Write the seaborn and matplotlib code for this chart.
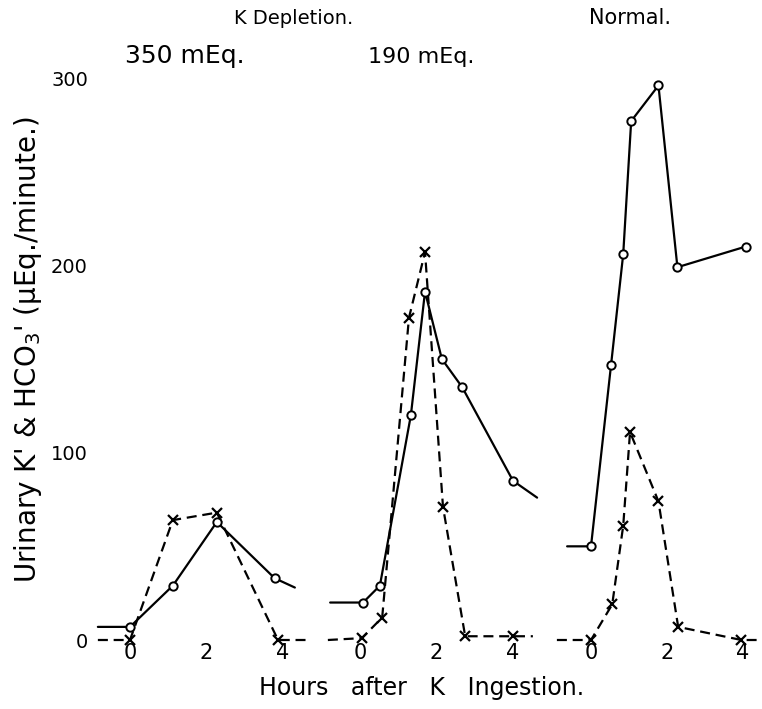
import matplotlib
matplotlib.use("Agg")
import matplotlib.pyplot as plt
import seaborn as sns

sns.set_style("white")
plt.rcParams["font.family"] = ["DejaVu Sans"]
plt.rcParams["text.color"] = "black"
plt.rcParams["xtick.color"] = "black"
plt.rcParams["ytick.color"] = "black"

hour_ticks = [0, 2, 4]
value_ticks = [0, 100, 200, 300]

panel_labels = ["350 mEq.", "190 mEq.", ""]
group_labels = ["K Depletion.", "Normal."]
x_label = "Hours   after   K   Ingestion."
y_label = "Urinary K' & HCO$_3$' (\u03bcEq./minute.)"

# 350 mEq. K depletion
p1_hco3_hours = [-0.84, 0.0, 1.12, 2.27, 3.78, 4.31]
p1_hco3_vals = [7, 7, 29, 63, 33, 28]
p1_k_hours = [-0.84, 0.0, 1.12, 2.27, 3.87, 4.63]
p1_k_vals = [0, 0, 64, 68, 0, 0]

# 190 mEq. K depletion
p2_hco3_hours = [-0.78, 0.08, 0.52, 1.33, 1.70, 2.14, 2.67, 4.0, 4.63]
p2_hco3_vals = [20, 20, 29, 120, 186, 150, 135, 85, 76]
p2_k_hours = [-0.84, 0.05, 0.58, 1.28, 1.70, 2.17, 2.75, 4.0, 4.52]
p2_k_vals = [0, 1, 12, 172, 207, 71, 2, 2, 2]

# Normal
p3_hco3_hours = [-0.63, 0.0, 0.53, 0.85, 1.06, 1.78, 2.28, 4.08]
p3_hco3_vals = [50, 50, 147, 206, 277, 296, 199, 210]
p3_k_hours = [-0.9, 0.0, 0.56, 0.85, 1.03, 1.78, 2.3, 3.97, 4.5]
p3_k_vals = [0, 0, 19, 61, 111, 74, 7, 0, 0]

panels = [
    (p1_hco3_hours, p1_hco3_vals, p1_k_hours, p1_k_vals, True, True),
    (p2_hco3_hours, p2_hco3_vals, p2_k_hours, p2_k_vals, True, True),
    (p3_hco3_hours, p3_hco3_vals, p3_k_hours, p3_k_vals, False, True),
]

W, H = 762, 709
fig = plt.figure(figsize=(W / 100, H / 100), dpi=100)

# panel placement in pixels: origin of hour 0, pixels per hour
origins = [130, 360, 591]
px_per_hour = [38.25, 38.25, 37.9]
y_zero_px = 640.0
px_per_unit = (640 - 78) / 300
x_lo, x_hi = -1.0, 4.7
y_lo, y_hi = -1.0, 315.0

dash = (0, (4.5, 2.6))

for i, (ht, hv, kt, kv, hco3_trail, k_trail) in enumerate(panels):
    left = origins[i] + x_lo * px_per_hour[i]
    width = (x_hi - x_lo) * px_per_hour[i]
    bottom_px = y_zero_px - y_lo * px_per_unit
    top_px = y_zero_px - y_hi * px_per_unit
    ax = fig.add_axes([left / W, (H - bottom_px) / H, width / W, (bottom_px - top_px) / H])
    ax.patch.set_alpha(0)

    hco3_marks = list(range(1, len(ht) - 1 if hco3_trail else len(ht)))
    k_marks = list(range(1, len(kt) - 1 if k_trail else len(kt)))

    sns.lineplot(x=kt, y=kv, ax=ax, color="black", linewidth=1.6,
                 linestyle=dash, marker="x", markersize=7,
                 markeredgewidth=1.6, markeredgecolor="black",
                 markevery=k_marks, sort=False, estimator=None,
                 clip_on=False, zorder=2)
    sns.lineplot(x=ht, y=hv, ax=ax, color="black", linewidth=1.6,
                 linestyle="-", marker="o", markersize=6,
                 markerfacecolor="white", markeredgewidth=1.4,
                 markeredgecolor="black", markevery=hco3_marks,
                 sort=False, estimator=None, clip_on=False, zorder=3)

    ax.set_xlim(x_lo, x_hi)
    ax.set_ylim(y_lo, y_hi)
    for s in ax.spines.values():
        s.set_visible(False)
    ax.set_xticks(hour_ticks)
    ax.set_xticklabels([str(t) for t in hour_ticks], fontsize=15)
    ax.tick_params(axis="x", length=0, pad=1)
    if i == 0:
        ax.set_yticks(value_ticks)
        ax.set_yticklabels([str(v) for v in value_ticks], fontsize=14)
        ax.tick_params(axis="y", length=0, pad=2.7)
    else:
        ax.set_yticks([])
    ax.set_xlabel("")
    ax.set_ylabel("")


def put(x_px, y_px, s, **kw):
    fig.text(x_px / W, 1 - y_px / H, s, ha="center", va="center", **kw)


put(294, 18, group_labels[0], fontsize=14)
put(630, 18, group_labels[1], fontsize=15)
put(185, 56, panel_labels[0], fontsize=18)
put(421, 57, panel_labels[1], fontsize=16)
put(422, 688, x_label, fontsize=17)
put(28, 350, y_label, fontsize=20, rotation=90)

fig.savefig("out.png", dpi=100)
